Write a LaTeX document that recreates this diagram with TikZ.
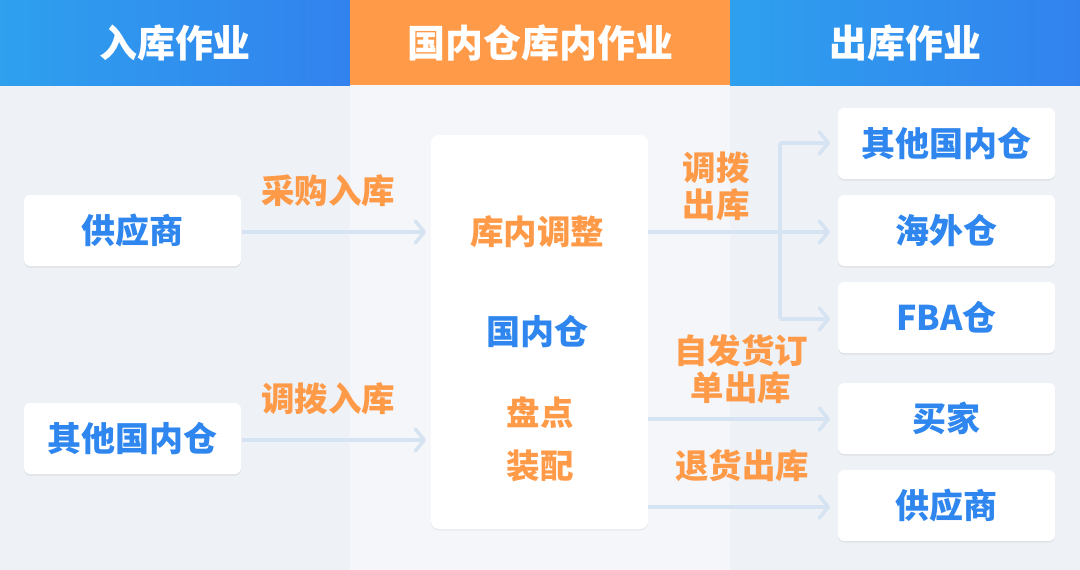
\documentclass[tikz,border=0pt]{standalone}
\usepackage{fontspec}
\setmainfont{Noto Sans CJK SC}
\usetikzlibrary{arrows.meta,shadows}
\definecolor{bluehA}{HTML}{2EA0EE}
\definecolor{bluehB}{HTML}{3282EE}
\definecolor{orangeh}{HTML}{FF9A48}
\definecolor{bgside}{HTML}{EEF1F6}
\definecolor{bgmid}{HTML}{F5F6F9}
\definecolor{txtblue}{HTML}{2E86EE}
\definecolor{txtorange}{HTML}{FF9A48}
\definecolor{linec}{HTML}{D5E3F3}
\tikzset{
  x=1pt, y=-1pt,
  box/.style={fill=white, rounded corners=6pt, inner sep=0pt, minimum width=217pt, minimum height=71pt,
    drop shadow={shadow xshift=0pt, shadow yshift=-1.5pt, opacity=0.12, fill=black!60}},
  boxtxt/.style={font=\bfseries\fontsize{34}{34}\selectfont, text=txtblue},
  lbl/.style={font=\bfseries\fontsize{33.5}{37}\selectfont, text=txtorange, align=center, inner sep=0pt},
  hdr/.style={font=\bfseries\fontsize{38}{38}\selectfont, text=white, inner sep=0pt},
  flow/.style={draw=linec, line width=3.5pt, -{Straight Barb[length=9pt,width=22pt,line width=3.5pt,round]}},
  flowl/.style={draw=linec, line width=3.5pt}
}
\begin{document}
\begin{tikzpicture}
\useasboundingbox (0,0) rectangle (1080,570);
% backgrounds
\fill[bgside] (0,85) rectangle (350,570);
\fill[bgmid] (350,85) rectangle (730,570);
\fill[bgside] (730,85) rectangle (1080,570);
% headers
\shade[left color=bluehA, right color=bluehB] (0,0) rectangle (350,85);
\fill[orangeh] (350,0) rectangle (730,85);
\shade[left color=bluehA, right color=bluehB] (730,0) rectangle (1080,85);
\node[hdr] (h1) at (175,43) {入库作业};
\node[hdr] (h2) at (540,43) {国内仓库内作业};
\node[hdr] (h3) at (905,43) {出库作业};
% left boxes
\node[box, boxtxt] (sup1) at (132.5,230.5) {供应商};
\node[box, boxtxt] (oth1) at (132.5,438.5) {其他国内仓};
% middle box
\node[fill=white, rounded corners=8pt, minimum width=217pt, minimum height=394pt, inner sep=0pt,
  drop shadow={shadow xshift=0pt, shadow yshift=-1.5pt, opacity=0.08, fill=black!60}] (mid) at (539.5,332) {};
\node[lbl] (m1) at (537,232) {库内调整};
\node[boxtxt] (m2) at (537,332) {国内仓};
\node[lbl] (m3) at (540,413) {盘点};
\node[lbl] (m4) at (540,466) {装配};
% right boxes
\node[box, boxtxt] (r1) at (946.5,143.5) {其他国内仓};
\node[box, boxtxt] (r2) at (946.5,230.5) {海外仓};
\node[box, boxtxt] (r3) at (946.5,317.5) {FBA仓};
\node[box, boxtxt] (r4) at (946.5,418.5) {买家};
\node[box, boxtxt] (r5) at (946.5,505.5) {供应商};
% coordinates
\coordinate (ain1) at (426,232);
\coordinate (ain2) at (426,440);
\coordinate (sA) at (242,232);
\coordinate (sB) at (242,440);
\coordinate (o1) at (648,232);
\coordinate (o4) at (648,419);
\coordinate (o5) at (648,507);
\coordinate (brT) at (780,143);
\coordinate (brB) at (780,319);
\coordinate (e1) at (830,143);
\coordinate (e2) at (830,232);
\coordinate (e3) at (830,319);
\coordinate (e4) at (830,419);
\coordinate (e5) at (830,507);
% in arrows
\draw[flow] (sA) -- (ain1);
\draw[flow] (sB) -- (ain2);
% out arrows
\draw[flowl] (brT) -- (brB);
\draw[flow] (o1) -- (e2);
\draw[flow] (brT) -- (e1);
\draw[flow] (brB) -- (e3);
\draw[flow] (o4) -- (e4);
\draw[flow] (o5) -- (e5);
% labels
\node[lbl] (l1) at (328,191) {采购入库};
\node[lbl] (l2) at (328,399) {调拨入库};
\node[lbl] (l3) at (716,186) {调拨\\出库};
\node[lbl] (l4) at (741,369) {自发货订\\单出库};
\node[lbl] (l5) at (742,466) {退货出库};
\end{tikzpicture}
\end{document}
